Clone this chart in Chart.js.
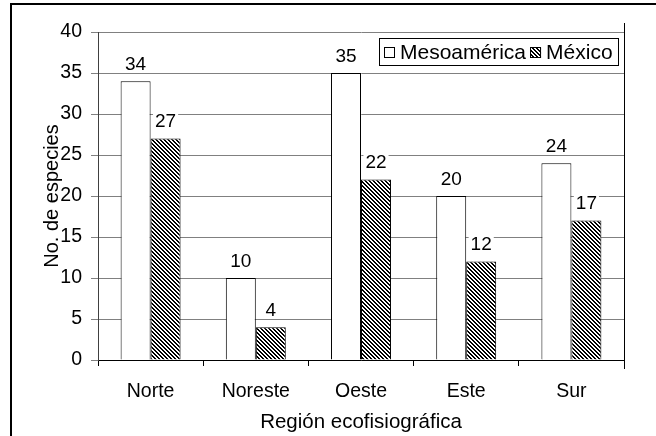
<!DOCTYPE html>
<html>
<head>
<meta charset="utf-8">
<script src="https://cdn.jsdelivr.net/npm/chart.js@4.4.1/dist/chart.umd.min.js"></script>
<style>
  body { margin: 0; background: #fff; }
  canvas { display: block; }
</style>
</head>
<body>
<canvas id="chart" width="656" height="436"></canvas>
<script>
const regions = ["Norte", "Noreste", "Oeste", "Este", "Sur"];
const mesoamerica = [34, 10, 35, 20, 24];
const mexico = [27, 4, 22, 12, 17];
const seriesNames = ["Mesoamérica", "México"];
const yMin = 0;
const yMax = 40;
const yStep = 5;
const xTitle = "Región ecofisiográfica";
const yTitle = "No. de especies";

const FONT = "'Liberation Sans', Arial, sans-serif";
Chart.defaults.font.family = FONT;
Chart.defaults.color = "#000";

const ctx = document.getElementById("chart").getContext("2d");

// diagonal hatch like the old excel fill
function makeHatch() {
  const c = document.createElement("canvas");
  c.width = 4;
  c.height = 4;
  const g = c.getContext("2d");
  g.fillStyle = "#fff";
  g.fillRect(0, 0, 4, 4);
  g.fillStyle = "#000";
  for (let y = 0; y < 4; y++) {
    g.fillRect(y % 4, y, 1, 1);
    g.fillRect((y + 1) % 4, y, 1, 1);
  }
  return ctx.createPattern(c, "repeat");
}
const hatch = makeHatch();

// outer frame (only top and left show in the picture)
const framePlugin = {
  id: "frame",
  beforeDraw(chart) {
    const c = chart.ctx;
    c.save();
    c.fillStyle = "#000";
    c.fillRect(10, 3, chart.width - 10, 2);
    c.fillRect(10, 3, 2, chart.height - 3);
    c.restore();
  },
  afterDraw(chart) {
    const c = chart.ctx;
    const a = chart.chartArea;
    c.save();
    c.strokeStyle = "#000";
    c.lineWidth = 1;
    c.beginPath();
    c.moveTo(Math.round(a.right) + 0.5, a.top - 9);
    c.lineTo(Math.round(a.right) + 0.5, a.bottom + 9);
    c.stroke();
    c.restore();
  }
};

// value labels with white box behind
const valueLabels = {
  id: "valueLabels",
  afterDatasetsDraw(chart) {
    const c = chart.ctx;
    c.save();
    c.font = "19px " + FONT;
    c.textAlign = "center";
    c.textBaseline = "alphabetic";
    chart.data.datasets.forEach((ds, i) => {
      chart.getDatasetMeta(i).data.forEach((bar, j) => {
        const txt = String(ds.data[j]);
        const w = c.measureText(txt).width;
        const base = bar.y - 11.5;
        c.fillStyle = "#fff";
        c.fillRect(bar.x - w / 2 - 2, base - 16, w + 4, 18);
        c.fillStyle = "#000";
        c.fillText(txt, bar.x, base);
      });
    });
    c.restore();
  }
};

// boxed legend inside the top right of the plot
const boxLegend = {
  id: "boxLegend",
  afterDraw(chart) {
    const c = chart.ctx;
    const a = chart.chartArea;
    c.save();
    c.font = "21px " + FONT;
    c.textBaseline = "middle";
    const sw = 11, gap = 5, pad = 5;
    let total = pad;
    seriesNames.forEach((n, i) => {
      total += sw + gap + c.measureText(n).width + (i < seriesNames.length - 1 ? 4 : pad);
    });
    total = Math.round(total);
    const h = 27;
    const x0 = Math.round(a.right - 6 - total);
    const y0 = Math.round(a.top + 6);
    c.fillStyle = "#fff";
    c.fillRect(x0, y0, total, h);
    c.strokeStyle = "#000";
    c.lineWidth = 1;
    c.strokeRect(x0 + 0.5, y0 + 0.5, total, h);
    let x = x0 + pad;
    const cy = Math.round(y0 + h / 2);
    chart.data.datasets.forEach((ds, i) => {
      c.fillStyle = ds.backgroundColor;
      c.fillRect(x, cy - 5, sw, sw);
      c.strokeRect(x + 0.5, cy - 5 + 0.5, sw - 1, sw - 1);
      x += sw + gap;
      c.fillStyle = "#000";
      c.fillText(seriesNames[i], x, cy + 1);
      x += c.measureText(seriesNames[i]).width + 4;
    });
    c.restore();
  }
};

new Chart(ctx, {
  type: "bar",
  data: {
    labels: regions,
    datasets: [
      {
        label: seriesNames[0],
        data: mesoamerica,
        backgroundColor: "#fff",
        borderColor: "#000",
        borderWidth: 1
      },
      {
        label: seriesNames[1],
        data: mexico,
        backgroundColor: hatch,
        borderColor: "#000",
        borderWidth: 1
      }
    ]
  },
  options: {
    responsive: false,
    animation: false,
    events: [],
    categoryPercentage: 0.57,
    barPercentage: 1.0,
    layout: { padding: { left: 0, top: 32, right: 32, bottom: 0 } },
    plugins: {
      legend: { display: false },
      tooltip: { enabled: false }
    },
    scales: {
      x: {
        grid: {
          drawOnChartArea: false,
          drawTicks: true,
          tickLength: 6,
          color: "#000",
          tickColor: "#000"
        },
        border: { color: "#000", width: 1 },
        ticks: { font: { size: 19.5 }, padding: 14, color: "#000" },
        title: {
          display: true,
          text: xTitle,
          font: { size: 20.5 },
          padding: { top: 0, bottom: 1 }
        },
        afterFit(scale) {
          scale.height = 76;
          scale.paddingLeft = 0;
          scale.paddingRight = 0;
        }
      },
      y: {
        min: yMin,
        max: yMax,
        ticks: { stepSize: yStep, font: { size: 19.5 }, padding: 9, color: "#000" },
        grid: {
          color: "#808080",
          tickColor: "#808080",
          tickLength: 7
        },
        border: { color: "#404040", width: 1 },
        title: {
          display: true,
          text: yTitle,
          font: { size: 20 },
          padding: { top: 40, bottom: 0 }
        },
        afterFit(scale) {
          scale.width = 98;
          scale.paddingTop = 0;
          scale.paddingBottom = 0;
        }
      }
    }
  },
  plugins: [framePlugin, valueLabels, boxLegend]
});
</script>
</body>
</html>
